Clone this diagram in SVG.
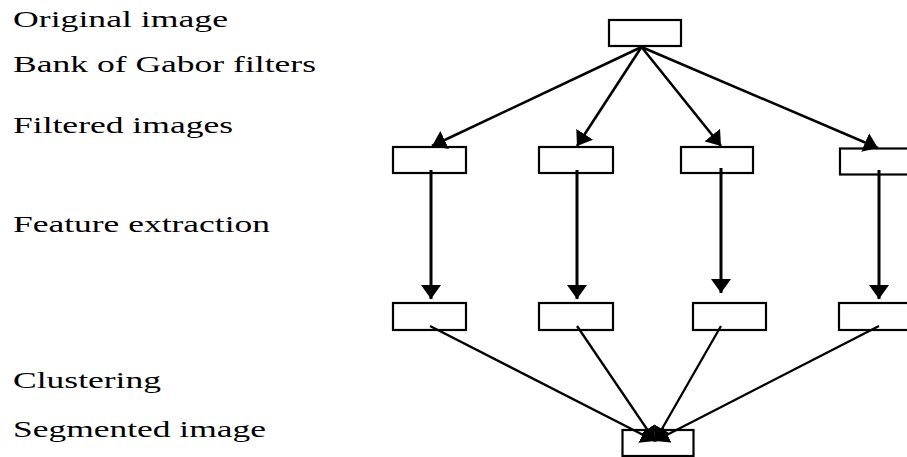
<svg xmlns="http://www.w3.org/2000/svg" width="907" height="457" viewBox="0 0 907 457">
<style>
  .lbl { font-size: 23px; fill: #000; }
  .box { fill: #fff; stroke: #000; stroke-width: 2.2; }
  .arr { fill: none; stroke: #000; stroke-width: 2.6; marker-end: url(#ah); }
  .vert { fill: none; stroke: #000; stroke-width: 3; marker-end: url(#ah); }
  .conv { fill: none; stroke: #000; stroke-width: 2.3; marker-end: url(#ah2); }
</style>
<defs>
  <marker id="ah" markerUnits="userSpaceOnUse" viewBox="0 0 14 20" refX="14" refY="10" markerWidth="14" markerHeight="20" orient="auto">
    <path d="M0,0 L14,10 L0,20 z" fill="#000"/>
  </marker>
  <marker id="ah2" markerUnits="userSpaceOnUse" viewBox="0 0 14 18" refX="14" refY="9" markerWidth="14" markerHeight="18" orient="auto">
    <path d="M0,0 L14,9 L0,18 z" fill="#000"/>
  </marker>
</defs>
<rect width="907" height="457" fill="#fff"/>
<g id="labels" font-family="'Liberation Serif', 'DejaVu Serif', 'Times New Roman', serif">
  <text class="lbl" x="13" y="27" textLength="215" lengthAdjust="spacingAndGlyphs">Original image</text>
  <text class="lbl" x="13" y="72" textLength="303" lengthAdjust="spacingAndGlyphs">Bank of Gabor filters</text>
  <text class="lbl" x="13" y="133" textLength="220" lengthAdjust="spacingAndGlyphs">Filtered images</text>
  <text class="lbl" x="13" y="232" textLength="257" lengthAdjust="spacingAndGlyphs">Feature extraction</text>
  <text class="lbl" x="13" y="388" textLength="148" lengthAdjust="spacingAndGlyphs">Clustering</text>
  <text class="lbl" x="13" y="437" textLength="253" lengthAdjust="spacingAndGlyphs">Segmented image</text>
</g>
<g id="node-original"><rect class="box" x="609" y="20" width="72" height="26"/></g>
<g id="node-filtered-1"><rect class="box" x="393" y="147" width="73" height="26"/></g>
<g id="node-filtered-2"><rect class="box" x="539" y="147" width="74" height="26"/></g>
<g id="node-filtered-3"><rect class="box" x="681" y="147" width="72" height="26"/></g>
<g id="node-filtered-4"><rect class="box" x="840" y="148.5" width="100" height="26"/></g>
<g id="node-feature-1"><rect class="box" x="393" y="303" width="73" height="27"/></g>
<g id="node-feature-2"><rect class="box" x="539" y="303" width="74" height="27"/></g>
<g id="node-feature-3"><rect class="box" x="693" y="303" width="73" height="27"/></g>
<g id="node-feature-4"><rect class="box" x="839" y="303" width="100" height="27"/></g>
<g id="node-segmented"><rect class="box" x="622.5" y="430" width="71" height="26"/></g>
<g id="connectors">
  <path class="arr" d="M641.5,47 L432,146"/>
  <path class="arr" d="M641.5,47 L577,146"/>
  <path class="arr" d="M641.5,47 L721,146"/>
  <path class="arr" d="M641.5,47 L878,148"/>
  <path class="vert" d="M431,170 L431,299"/>
  <path class="vert" d="M577,170 L577,299"/>
  <path class="vert" d="M721,168 L721,293"/>
  <path class="vert" d="M879,170 L879,299"/>
  <path class="conv" d="M430,326 L655,441"/>
  <path class="conv" d="M577,326 L655,441"/>
  <path class="conv" d="M721,326 L655,441"/>
  <path class="conv" d="M879,326 L655,441"/>
</g>
</svg>
